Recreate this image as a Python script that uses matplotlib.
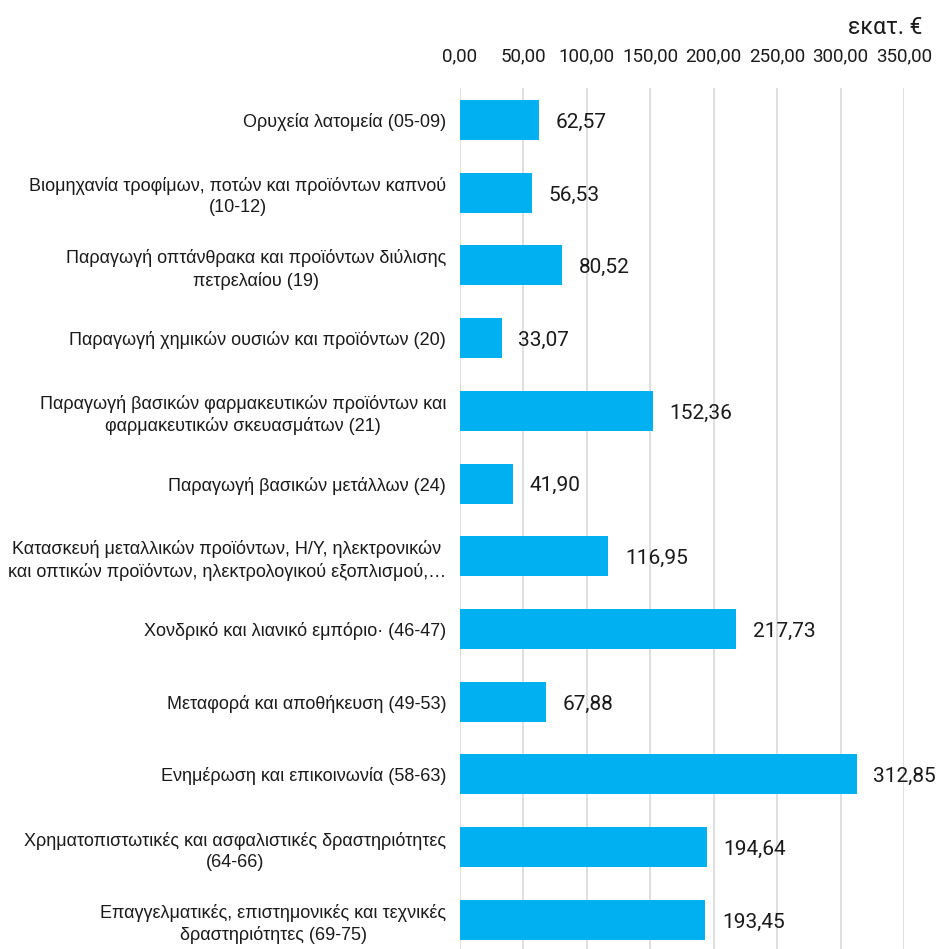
import matplotlib.pyplot as plt

categories = [
    "Ορυχεία λατομεία (05-09)",
    "Βιομηχανία τροφίμων, ποτών και προϊόντων καπνού\n(10-12)",
    "Παραγωγή οπτάνθρακα και προϊόντων διύλισης\nπετρελαίου (19)",
    "Παραγωγή χημικών ουσιών και προϊόντων (20)",
    "Παραγωγή βασικών φαρμακευτικών προϊόντων και\nφαρμακευτικών σκευασμάτων (21)",
    "Παραγωγή βασικών μετάλλων (24)",
    "Κατασκευή μεταλλικών προϊόντων, Η/Υ, ηλεκτρονικών\nκαι οπτικών προϊόντων, ηλεκτρολογικού εξοπλισμού,…",
    "Χονδρικό και λιανικό εμπόριο· (46-47)",
    "Μεταφορά και αποθήκευση (49-53)",
    "Ενημέρωση και επικοινωνία (58-63)",
    "Χρηματοπιστωτικές και ασφαλιστικές δραστηριότητες\n(64-66)",
    "Επαγγελματικές, επιστημονικές και τεχνικές\nδραστηριότητες (69-75)",
]
values = [62.57, 56.53, 80.52, 33.07, 152.36, 41.90, 116.95, 217.73, 67.88, 312.85, 194.64, 193.45]
ticks = [0, 50, 100, 150, 200, 250, 300, 350]


def fmt(v):
    return f"{v:.2f}".replace(".", ",")


fig = plt.figure(figsize=(9.37, 9.49), dpi=100)
ax = fig.add_axes([460 / 937, 0, (904 - 460) / 937, 1 - 88 / 949])

pos = list(range(len(values)))
ax.barh(pos, values, height=0.55, color="#00B0F0", zorder=3)

for p, v in zip(pos, values):
    ax.text(v + 13, p + 0.03, fmt(v), va="center", ha="left",
            fontsize=15, family="Roboto", color="#1a1a1a")

ax.set_xlim(0, 350)
ax.set_ylim(11.40, -0.44)
ax.set_xticks(ticks)
ax.set_xticklabels([fmt(t) for t in ticks], family="Roboto", fontsize=13.5, color="#1a1a1a")
ax.xaxis.tick_top()
ax.tick_params(axis="x", length=0, pad=16)
ax.grid(axis="x", color="#D9D9D9", linewidth=1.2, zorder=0)

ax.set_yticks(pos)
ax.set_yticklabels(categories, family="Liberation Sans", fontsize=13,
                   multialignment="center", linespacing=1.3, color="#1a1a1a")
ax.tick_params(axis="y", length=0, pad=10)

for s in ax.spines.values():
    s.set_visible(False)

fig.text(922 / 937, 1 - 28 / 949, "εκατ. €", ha="right", va="center",
         family="Roboto", fontsize=16.5, color="#1a1a1a")

fig.savefig("out.png", dpi=100)
